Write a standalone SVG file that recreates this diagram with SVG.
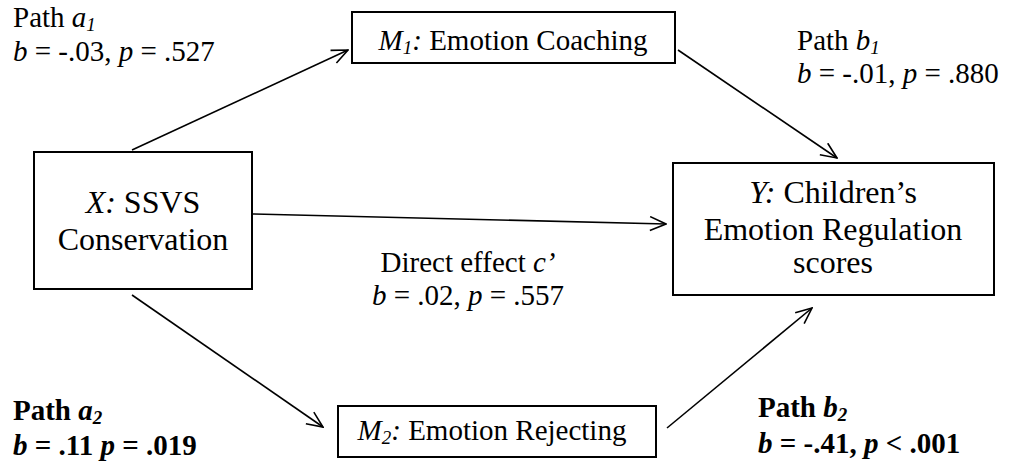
<svg xmlns="http://www.w3.org/2000/svg" width="1009" height="464" viewBox="0 0 1009 464">
<style>
text{font-family:"Liberation Serif","Times New Roman",serif;fill:#000}
.lbl{font-size:29px}
.big{font-size:32px}
.b{font-weight:bold}
.i{font-style:italic}
.box{fill:#fff;stroke:#000;stroke-width:2}
.edge{fill:none;stroke:#000;stroke-width:1.6;marker-end:url(#arr)}
</style>
<defs>
<marker id="arr" viewBox="0 0 18 16" refX="17" refY="8" markerWidth="18" markerHeight="16" markerUnits="userSpaceOnUse" orient="auto">
<path d="M1,1 L17,8 L1,15" fill="none" stroke="#000" stroke-width="1.6"/>
</marker>
</defs>
<rect width="1009" height="464" fill="#fff"/>
<g id="connectors">
<line class="edge" x1="132" y1="150" x2="348" y2="50"/>
<line class="edge" x1="678" y1="50" x2="837" y2="158"/>
<line class="edge" x1="253" y1="214" x2="666" y2="224"/>
<line class="edge" x1="132" y1="295" x2="323" y2="427"/>
<line class="edge" x1="667" y1="428" x2="812" y2="308"/>
</g>
<g id="node-x">
<rect class="box" x="34" y="152" width="218" height="137"/>
<text class="big" x="143" y="213" text-anchor="middle"><tspan class="i">X:</tspan> SSVS</text>
<text class="big" x="143" y="250" text-anchor="middle">Conservation</text>
</g>
<g id="node-m1">
<rect class="box" x="352" y="12" width="323" height="51"/>
<text class="lbl" x="513" y="50" text-anchor="middle"><tspan class="i">M</tspan><tspan class="i" font-size="19" dy="4">1</tspan><tspan class="i" dy="-4">:</tspan> Emotion Coaching</text>
</g>
<g id="node-m2">
<rect class="box" x="338" y="406" width="318" height="51"/>
<text class="lbl" x="492" y="440" text-anchor="middle"><tspan class="i">M</tspan><tspan class="i" font-size="19" dy="4">2</tspan><tspan class="i" dy="-4">:</tspan> Emotion Rejecting</text>
</g>
<g id="node-y">
<rect class="box" x="673" y="163" width="321" height="132"/>
<text class="big" x="833" y="203" text-anchor="middle"><tspan class="i">Y:</tspan> Children’s</text>
<text class="big" x="833" y="240" text-anchor="middle">Emotion Regulation</text>
<text class="big" x="833" y="273" text-anchor="middle">scores</text>
</g>
<g id="labels">
<text class="lbl" x="13" y="27">Path <tspan class="i">a</tspan><tspan class="i" font-size="19" dy="4">1</tspan></text>
<text class="lbl" x="13" y="61"><tspan class="i">b</tspan> = -.03, <tspan class="i">p</tspan> = .527</text>
<text class="lbl" x="797" y="50">Path <tspan class="i">b</tspan><tspan class="i" font-size="19" dy="4">1</tspan></text>
<text class="lbl" x="797" y="83"><tspan class="i">b</tspan> = -.01, <tspan class="i">p</tspan> = .880</text>
<text class="lbl" x="468" y="272" text-anchor="middle">Direct effect <tspan class="i">c’</tspan></text>
<text class="lbl" x="468" y="305" text-anchor="middle"><tspan class="i">b</tspan> = .02, <tspan class="i">p</tspan> = .557</text>
<text class="lbl b" x="13" y="420">Path <tspan class="i">a</tspan><tspan class="i" font-size="19" dy="4">2</tspan></text>
<text class="lbl b" x="13" y="455"><tspan class="i">b</tspan> = .11 <tspan class="i">p</tspan> = .019</text>
<text class="lbl b" x="758" y="417">Path <tspan class="i">b</tspan><tspan class="i" font-size="19" dy="4">2</tspan></text>
<text class="lbl b" x="758" y="453"><tspan class="i">b</tspan> = -.41, <tspan class="i">p</tspan> &lt; .001</text>
</g>
</svg>
